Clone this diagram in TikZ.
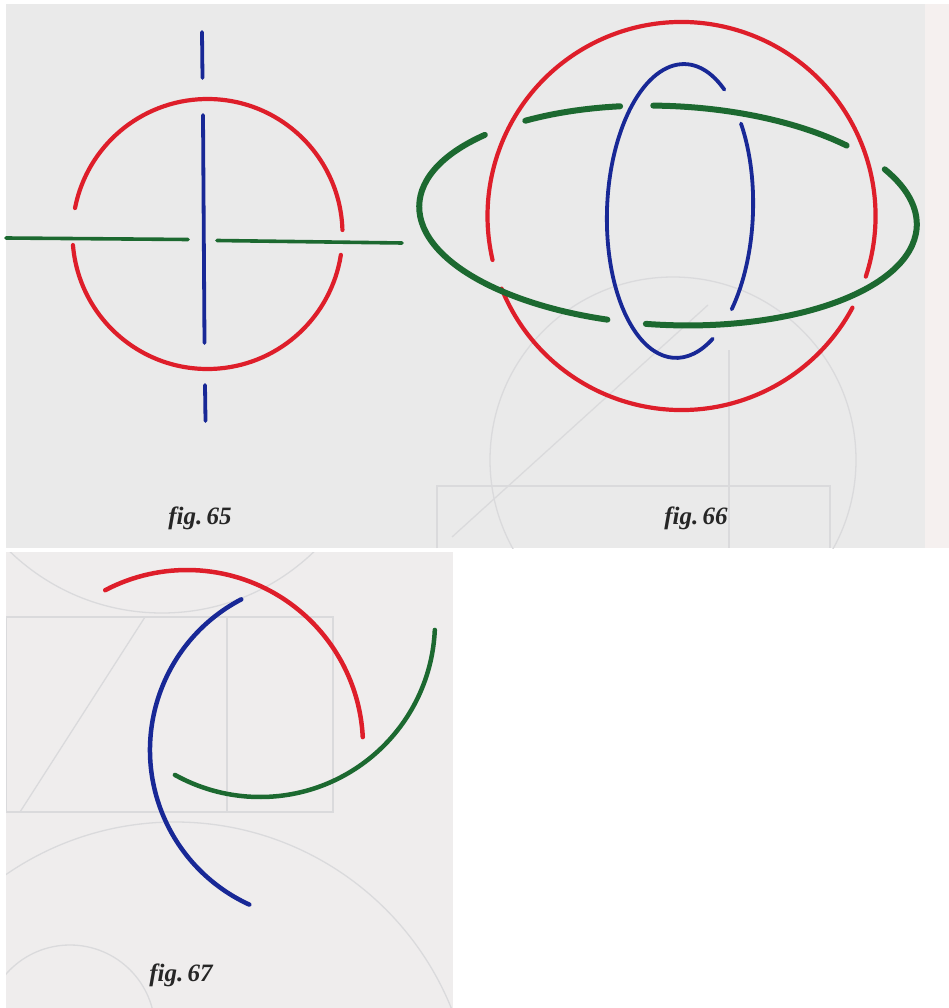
\documentclass[tikz,border=0pt]{standalone}
\usepackage{fontspec}
\newfontfamily\capfont{Liberation Serif}
\definecolor{kred}{RGB}{222,30,42}
\definecolor{kgreen}{RGB}{28,105,48}
\definecolor{kblue}{RGB}{24,40,150}
\definecolor{pagegray}{RGB}{234,234,234}
\definecolor{pagegray2}{RGB}{239,237,237}
\definecolor{stripcol}{RGB}{245,240,239}
\definecolor{ghostcol}{RGB}{218,218,220}
\begin{document}
\begin{tikzpicture}[x=1pt,y=1pt,
  redl/.style={draw=kred,line width=4.2pt,line cap=round},
  grnl/.style={draw=kgreen,line width=3.6pt,line cap=round},
  grnthick/.style={draw=kgreen,line width=6pt,line cap=round},
  bluel/.style={draw=kblue,line width=3.8pt,line cap=round},
  arcl/.style={line width=4.5pt,line cap=round},
  ghost/.style={draw=ghostcol,line width=1.3pt},
  figcap/.style={font=\capfont\bfseries\itshape\fontsize{25}{28}\selectfont,text=black!85,inner sep=0pt}]
\useasboundingbox (0,0) rectangle (949,-1008);
\fill[white] (0,0) rectangle (949,-1008);
% scanned page panels
\fill[pagegray] (6,-4) rectangle (925,-548);
\fill[stripcol] (925,-4) rectangle (949,-548);
\fill[pagegray2] (6,-552) rectangle (453,-1008);
% faint show-through shapes
\begin{scope}
  \clip (6,-4) rectangle (925,-548);
  \draw[ghost] (673,-460) circle[radius=183];
  \draw[ghost] (437,-548) -- (437,-486) -- (830,-486) -- (830,-548);
  \draw[ghost] (729,-350) -- (729,-548);
  \draw[ghost] (452,-537) -- (708,-305);
\end{scope}
\begin{scope}
  \clip (6,-552) rectangle (453,-1008);
  \draw[ghost] (162,-394) circle[radius=219];
  \draw[ghost] (6,-617) rectangle (333,-812);
  \draw[ghost] (227,-617) -- (227,-812);
  \draw[ghost] (20,-812) -- (145,-617);
  \draw[ghost] (175,-1120) circle[radius=298];
  \draw[ghost] (70,-1030) circle[radius=85];
\end{scope}

% ---------- fig. 65 ----------
\draw[redl] (207.5,-234) ++(1.7:135) arc[start angle=1.7,end angle=168.9,radius=135];
\draw[redl] (207.5,-234) ++(184.7:135) arc[start angle=184.7,end angle=351.1,radius=135];
\draw[grnl] (6,-238) -- (188,-239.5);
\draw[grnl] (217,-240.5) -- (402,-243);
\draw[bluel] (202,-32) -- (202.5,-78);
\draw[bluel] (203,-115) -- (204.5,-343);
\draw[bluel] (205,-385) -- (205.5,-421);
\node[figcap] (c65) at (200,-518) {fig.\,65};

% ---------- fig. 66 ----------
% red circle
\draw[redl] (681.5,-216) ++(-18.2:194) arc[start angle=-18.2,end angle=193.1,radius=194];
\draw[redl] (681.5,-216) ++(202:194) arc[start angle=202,end angle=331.8,radius=194];
% green ellipse
\begin{scope}[rotate around={-2.5:(668,-215.5)}]
  \draw[grnthick] (668,-215.5) ++(138.5:249 and 109.5) arc[start angle=138.5,end angle=257,x radius=249,y radius=109.5];
  \draw[grnthick] (668,-215.5) ++(102.2:249 and 109.5) arc[start angle=102.2,end angle=126.1,x radius=249,y radius=109.5];
  \draw[grnthick] (668,-215.5) ++(45.2:249 and 109.5) arc[start angle=45.2,end angle=94.5,x radius=249,y radius=109.5];
  \draw[grnthick] (668,-215.5) ++(-94:249 and 109.5) arc[start angle=-94,end angle=30.5,x radius=249,y radius=109.5];
\end{scope}
% blue ellipse
\begin{scope}[rotate around={-2:(680,-211)}]
  \draw[bluel] (680,-211) ++(56.7:73 and 147) arc[start angle=56.7,end angle=300.6,x radius=73,y radius=147];
  \draw[bluel] (680,-211) ++(-41:73 and 147) arc[start angle=-41,end angle=37.5,x radius=73,y radius=147];
\end{scope}
\node[figcap] (c66) at (696,-518) {fig.\,66};

% ---------- fig. 67 ----------
\draw[arcl,draw=kred] (187,-746) ++(117.7:176) arc[start angle=117.7,end angle=2.9,radius=176];
\draw[arcl,draw=kblue] (320,-750) ++(117.6:170) arc[start angle=117.6,end angle=245.4,radius=170];
\draw[arcl,draw=kgreen] (260,-622) ++(-2.6:175) arc[start angle=-2.6,end angle=-119.1,radius=175];
\node[figcap] (c67) at (181,-975) {fig.\,67};
\end{tikzpicture}
\end{document}
